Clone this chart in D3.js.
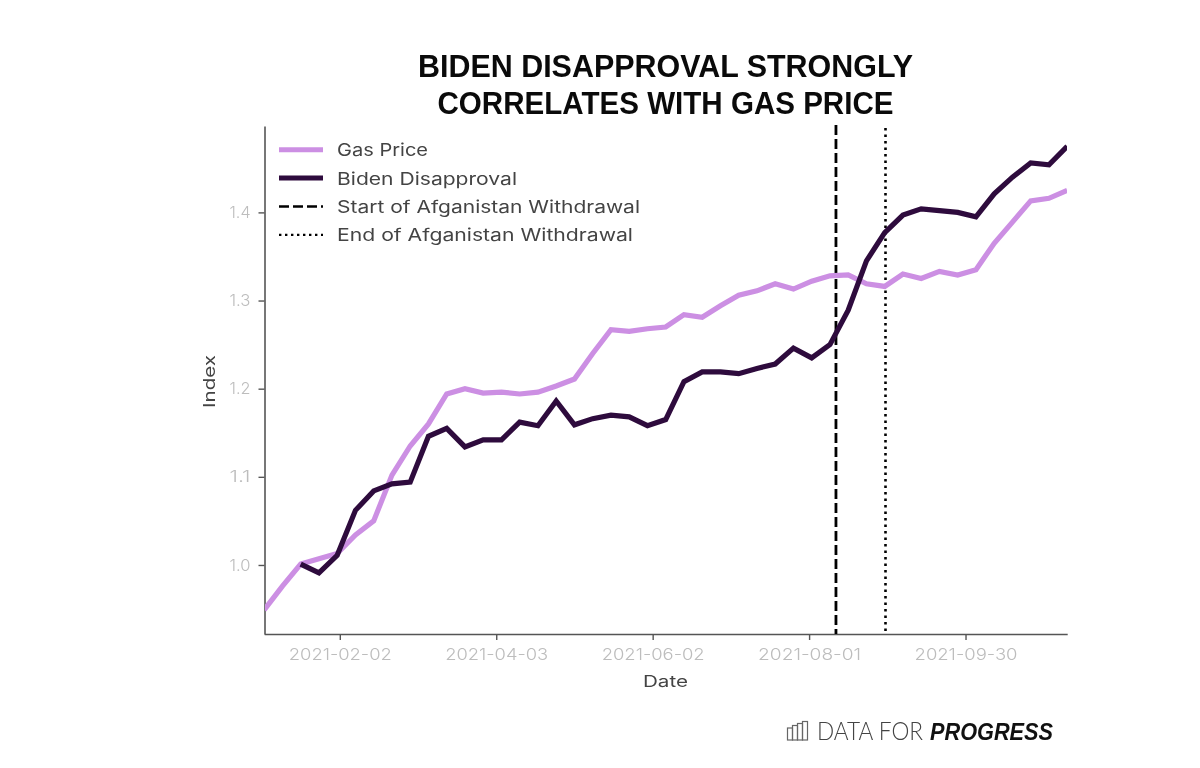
<!DOCTYPE html>
<html><head><meta charset="utf-8">
<script src="https://cdn.jsdelivr.net/npm/d3@7"></script>
<style>html,body{margin:0;padding:0;background:#fff}svg{display:block;filter:blur(0.45px)}text{font-family:Inter,"Open Sans",sans-serif}</style>
</head><body><div id="chart"></div>
<script>
const startDate = "2021-01-04";
const weeksCount = 45;
const gasPrice = [0.949,0.976,1.001,1.007,1.013,1.034,1.05,1.102,1.135,1.16,1.194,1.2,1.195,1.196,1.194,1.196,1.203,1.211,1.24,1.267,1.265,1.268,1.27,1.284,1.281,1.294,1.306,1.311,1.319,1.313,1.322,1.328,1.329,1.319,1.316,1.33,1.325,1.333,1.329,1.335,1.365,1.389,1.413,1.416,1.425];
const bidenDisapproval = [null,null,1.001,0.991,1.011,1.062,1.084,1.092,1.094,1.146,1.155,1.134,1.142,1.142,1.162,1.158,1.186,1.159,1.166,1.17,1.168,1.158,1.165,1.208,1.219,1.219,1.217,1.223,1.228,1.246,1.235,1.25,1.289,1.345,1.377,1.397,1.404,1.402,1.4,1.395,1.421,1.44,1.456,1.454,1.475];
const xTickLabels = ["2021-02-02","2021-04-03","2021-06-02","2021-08-01","2021-09-30"];
const yTickValues = [1.0,1.1,1.2,1.3,1.4];
const withdrawalStart = "2021-08-11";
const withdrawalEnd = "2021-08-30";
const legendLabels = ["Gas Price","Biden Disapproval","Start of Afganistan Withdrawal","End of Afganistan Withdrawal"];
const titleLines = ["BIDEN DISAPPROVAL STRONGLY","CORRELATES WITH GAS PRICE"];

const parse = d3.utcParse("%Y-%m-%d");
const dates = d3.range(weeksCount).map(i => d3.utcDay.offset(parse(startDate), i * 7));
const svg = d3.select("#chart").append("svg").attr("width",1200).attr("height",768);

const x = d3.scaleUtc().domain([dates[0], dates[dates.length-1]]).range([264.2,1067.2]);
const y = d3.scaleLinear().domain([0.9217,1.498]).range([634,126]);
const GAS="#cc8fe3", BIDEN="#2e0b3d", AX="#555", TICK="#bdbdbd";

// titles
titleLines.forEach((t,i)=>{
  svg.append("text").attr("x",665.5).attr("y",77+i*37).attr("text-anchor","middle")
    .attr("textLength",i?456:495).attr("lengthAdjust","spacingAndGlyphs")
    .style("font-family",'"Liberation Sans",sans-serif').style("font-weight",700)
    .style("font-size","31px").attr("fill","#0a0a0a").text(t);
});

// axes
const gx = svg.append("g").attr("transform","translate(0,634)")
  .call(d3.axisBottom(x).tickValues(xTickLabels.map(parse)).tickFormat(d3.utcFormat("%Y-%m-%d")).tickSize(6).tickSizeOuter(0));
const gy = svg.append("g").attr("transform","translate(264.5,0)")
  .call(d3.axisLeft(y).tickValues(yTickValues).tickFormat(d3.format(".1f")).tickSize(6).tickSizeOuter(0));
[gx,gy].forEach(g=>{
  g.selectAll(".domain").attr("stroke",AX).attr("stroke-width",1.6);
  g.selectAll(".tick line").attr("stroke",AX).attr("stroke-width",1.4);
  g.selectAll(".tick text").attr("fill",TICK).style("font-size","16px").style("font-weight",300);
});
gx.selectAll(".tick text").attr("y",11).attr("dy","0.95em").attr("textLength",103).attr("lengthAdjust","spacingAndGlyphs");
gy.selectAll(".tick text").attr("dx","-5").attr("textLength",21).attr("lengthAdjust","spacingAndGlyphs");

svg.append("text").attr("x",665.5).attr("y",687).attr("text-anchor","middle").attr("fill","#444").style("font-size","16px")
  .attr("textLength",45).attr("lengthAdjust","spacingAndGlyphs").text("Date");
svg.append("text").attr("transform","translate(215,381.5) rotate(-90)").attr("text-anchor","middle").attr("fill","#444").style("font-size","16px")
  .attr("textLength",53).attr("lengthAdjust","spacingAndGlyphs").text("Index");

// vertical lines
const vx = d => x(parse(d)) + 0.8;
svg.append("line").attr("x1",vx(withdrawalStart)).attr("x2",vx(withdrawalStart)).attr("y1",125).attr("y2",634)
  .attr("stroke","#000").attr("stroke-width",2.8).attr("stroke-dasharray","10 4");
svg.append("line").attr("x1",vx(withdrawalEnd)).attr("x2",vx(withdrawalEnd)).attr("y1",128).attr("y2",634)
  .attr("stroke","#000").attr("stroke-width",2.6).attr("stroke-dasharray","2.6 3.9");

// series
const line = d3.line().defined(d=>d[1]!=null).x(d=>x(d[0])).y(d=>y(d[1]));
svg.append("clipPath").attr("id","plot").append("rect").attr("x",265).attr("y",126).attr("width",802).attr("height",508);
[[gasPrice,GAS],[bidenDisapproval,BIDEN]].forEach(([vals,c])=>{
  svg.append("path").datum(vals.map((v,i)=>[dates[i],v])).attr("d",line).attr("fill","none")
    .attr("stroke",c).attr("stroke-width",5.2).attr("stroke-linejoin","miter").attr("clip-path","url(#plot)");
});

// legend
const legendStyles = [
  {c:GAS,w:5,dash:null},{c:BIDEN,w:5,dash:null},
  {c:"#000",w:2.4,dash:"10 4"},{c:"#000",w:2.2,dash:"2.4 3.6"}];
legendLabels.forEach((t,i)=>{
  const yy = 149.7+i*28.4, s=legendStyles[i];
  svg.append("line").attr("x1",279).attr("x2",323).attr("y1",yy).attr("y2",yy)
    .attr("stroke",s.c).attr("stroke-width",s.w).attr("stroke-dasharray",s.dash);
  svg.append("text").attr("x",337).attr("y",yy+6.5).attr("fill","#444").style("font-size","17px")
    .attr("textLength",[91,180,303,296][i]).attr("lengthAdjust","spacingAndGlyphs").text(t);
});

// logo
const logo = svg.append("g").attr("fill","none").attr("stroke","#666").attr("stroke-width",1.2);
[[787.5,728],[792.5,725.5],[797.5,723.5],[802.5,721.5]].forEach(b=>{
  logo.append("rect").attr("x",b[0]).attr("y",b[1]).attr("width",5).attr("height",740-b[1]);
});
svg.append("text").attr("x",817).attr("y",740).attr("fill","#444").style("font-family",'Lato,sans-serif').style("font-weight",300)
  .style("font-size","25px").attr("textLength",106).attr("lengthAdjust","spacingAndGlyphs").text("DATA FOR");
svg.append("text").attr("x",930).attr("y",740).attr("fill","#111").style("font-family",'"Liberation Sans",sans-serif')
  .style("font-size","24px").style("font-weight",700).style("font-style","italic")
  .attr("textLength",123).attr("lengthAdjust","spacingAndGlyphs").text("PROGRESS");
</script></body></html>
